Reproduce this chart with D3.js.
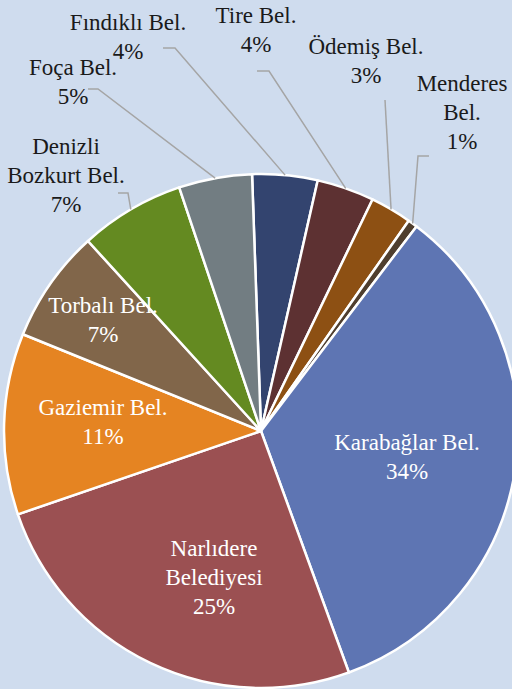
<!DOCTYPE html>
<html>
<head>
<meta charset="UTF-8">
<title>Belediyeler</title>
<script src="https://d3js.org/d3.v7.min.js"></script>
<style>
  body { margin: 0; background: #cfdcee; }
  svg { display: block; }
</style>
</head>
<body>
<div id="chart"></div>
<script>
// veriler (yüzde, saat yönünde)
const names = ["Fındıklı Bel.", "Tire Bel.", "Ödemiş Bel.", "Menderes Bel.", "Karabağlar Bel.",
               "Narlıdere Belediyesi", "Gaziemir Bel.", "Torbalı Bel.", "Denizli Bozkurt Bel.", "Foça Bel."];
const values = [4.1, 3.6, 2.6, 0.6, 34.1, 25.3, 11.4, 7.1, 6.6, 4.6];
const colors = ["#33446f", "#5d3132", "#8d5013", "#4f3e2e", "#5e75b3",
                "#9b5052", "#e58422", "#81664a", "#648a21", "#727d82"];
// etiket satırları
const labelLines = [["Fındıklı Bel.", "4%"], ["Tire Bel.", "4%"], ["Ödemiş Bel.", "3%"], ["Menderes", "Bel.", "1%"],
                    ["Karabağlar Bel.", "34%"], ["Narlıdere", "Belediyesi", "25%"], ["Gaziemir Bel.", "11%"],
                    ["Torbalı Bel.", "7%"], ["Denizli", "Bozkurt Bel.", "7%"], ["Foça Bel.", "5%"]];

const width = 512, height = 689;
const cx = 261, cy = 431, r = 257;
const start = -2 * Math.PI / 180;

// etiket konumları (ilk satır merkezi) ve dış etiketler için kılavuz çizgisi başlangıcı
const labelPos = [[128, 23], [256, 16], [366, 47], [462, 84], [407, 443], [214, 549], [103, 408], [103, 306], [66, 147], [73, 68]];
const outside = [true, true, true, true, false, false, false, false, true, true];
const leaderStart = [[163, 48, 175], [257, 71, 269], [385, 100, 385], [429, 156, 418], null, null, null, null, [118, 193, 128], [88, 89, 98]];

const svg = d3.select("#chart").append("svg")
  .attr("width", width).attr("height", height);

svg.append("rect").attr("width", width).attr("height", height).attr("fill", "#cfdcee");

const pie = d3.pie().sort(null).value(d => d)
  .startAngle(start).endAngle(start + 2 * Math.PI);
const arcs = pie(values);
const arc = d3.arc().innerRadius(0).outerRadius(r);

const g = svg.append("g").attr("transform", `translate(${cx},${cy})`);

g.selectAll("path.slice")
  .data(arcs)
  .enter()
  .append("path")
  .attr("class", "slice")
  .attr("d", arc)
  .attr("fill", (d, i) => colors[i])
  .attr("stroke", "#ffffff")
  .attr("stroke-width", 2.5)
  .attr("stroke-linejoin", "round");

// kılavuz çizgileri
arcs.forEach((d, i) => {
  if (!leaderStart[i]) return;
  const mid = (d.startAngle + d.endAngle) / 2;
  const ex = cx + r * Math.sin(mid), ey = cy - r * Math.cos(mid);
  const s = leaderStart[i];
  svg.append("polyline")
    .attr("points", `${s[0]},${s[1]} ${s[2]},${s[1]} ${ex},${ey}`)
    .attr("fill", "none")
    .attr("stroke", "#a5a5a5")
    .attr("stroke-width", 1.5);
});

// etiketler
const lineH = 29;
labelLines.forEach((lines, i) => {
  lines.forEach((ln, j) => {
    svg.append("text")
      .attr("x", labelPos[i][0])
      .attr("y", labelPos[i][1] + j * lineH + 7)
      .attr("text-anchor", "middle")
      .style("font-family", '"Liberation Serif", monospace')
      .style("font-size", "23px")
      .attr("fill", outside[i] ? "#1a1a1a" : "#ffffff")
      .text(ln);
  });
});
</script>
</body>
</html>
